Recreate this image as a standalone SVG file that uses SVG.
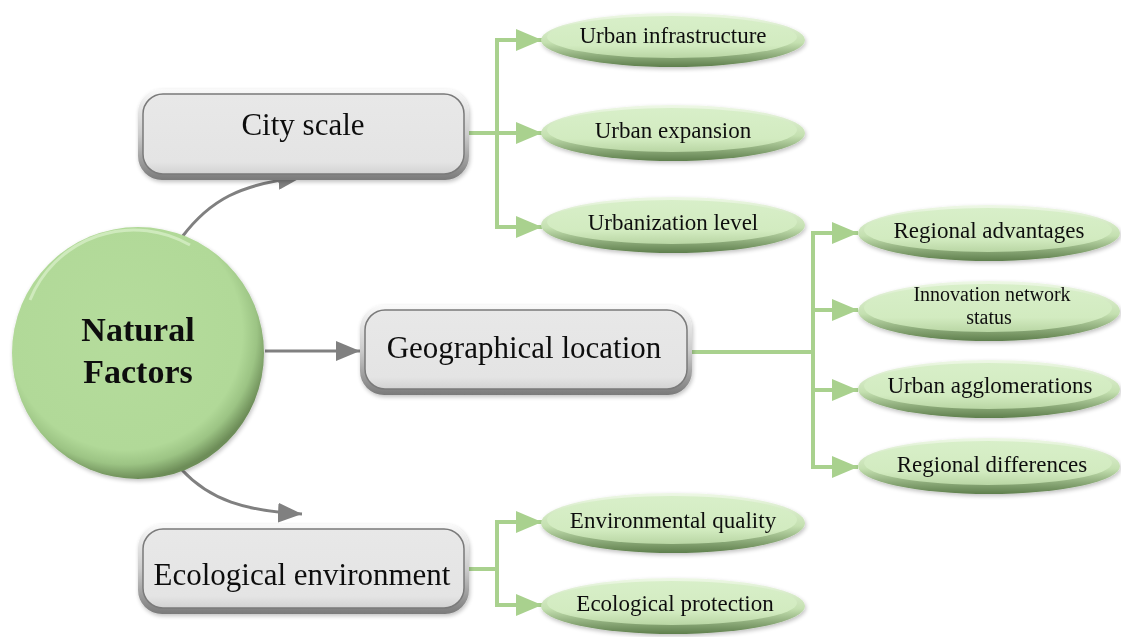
<svg xmlns="http://www.w3.org/2000/svg" width="1121" height="637" viewBox="0 0 1121 637">
<defs>
<style>
.box-text{font-family:"Liberation Serif","Times New Roman",serif;font-size:31px;fill:#111;text-anchor:middle}
.leaf-text{font-family:"Liberation Serif","Times New Roman",serif;font-size:23px;fill:#111;text-anchor:middle}
.leaf-small{font-family:"Liberation Serif","Times New Roman",serif;font-size:20px;fill:#111;text-anchor:middle}
.root-text{font-family:"Liberation Serif","Times New Roman",serif;font-size:34px;font-weight:bold;fill:#111;text-anchor:middle}
.green{fill:none;stroke:#a9d18e;stroke-width:4}
.gray{fill:none;stroke:#808080;stroke-width:3}
.box-outer{fill:url(#boxRim)}
.box-inner{fill:url(#boxFill);stroke:#7a7a7a;stroke-width:1.5}
.leaf-outer{fill:url(#leafRim)}
.leaf-inner{fill:url(#leafFill)}
</style>
<linearGradient id="boxRim" x1="0" y1="0" x2="0" y2="1">
<stop offset="0" stop-color="#fafafa"/>
<stop offset="0.5" stop-color="#cccccc"/>
<stop offset="1" stop-color="#7a7a7a"/>
</linearGradient>
<linearGradient id="boxFill" x1="0" y1="0" x2="0" y2="1">
<stop offset="0" stop-color="#e8e8e8"/>
<stop offset="0.85" stop-color="#e4e4e4"/>
<stop offset="1" stop-color="#d2d2d2"/>
</linearGradient>
<linearGradient id="leafRim" x1="0" y1="0" x2="0" y2="1">
<stop offset="0" stop-color="#eef8e6"/>
<stop offset="0.55" stop-color="#c4e0b0"/>
<stop offset="1" stop-color="#5f7f4d"/>
</linearGradient>
<linearGradient id="leafFill" x1="0" y1="0" x2="0" y2="1">
<stop offset="0" stop-color="#d8efc9"/>
<stop offset="0.7" stop-color="#d2ebc0"/>
<stop offset="1" stop-color="#b9d6a4"/>
</linearGradient>
<radialGradient id="rootFill" cx="0.45" cy="0.42" r="0.58">
<stop offset="0" stop-color="#b5dc9c"/>
<stop offset="0.8" stop-color="#b1d998"/>
<stop offset="0.9" stop-color="#9cc484"/>
<stop offset="1" stop-color="#6d8d58"/>
</radialGradient>
<filter id="shadow" x="-10%" y="-10%" width="120%" height="125%">
<feGaussianBlur in="SourceAlpha" stdDeviation="2"/>
<feOffset dx="1" dy="2" result="b"/>
<feComponentTransfer><feFuncA type="linear" slope="0.25"/></feComponentTransfer>
<feMerge><feMergeNode/><feMergeNode in="SourceGraphic"/></feMerge>
</filter>
<marker id="arrGreen" markerUnits="userSpaceOnUse" markerWidth="28" markerHeight="22" refX="26" refY="11" orient="auto">
<path d="M0,0 L26,11 L0,22 Z" fill="#a9d18e"/>
</marker>
<marker id="arrGray" markerUnits="userSpaceOnUse" markerWidth="26" markerHeight="20" refX="24" refY="10" orient="auto">
<path d="M0,0 L24,10 L0,20 Z" fill="#808080"/>
</marker>
</defs>
<rect width="1121" height="637" fill="#ffffff"/>

<g id="connectors">
<path class="gray" d="M182,237 C210,200 240,184 302,177" marker-end="url(#arrGray)"/>
<path class="gray" d="M265,351 L360,351" marker-end="url(#arrGray)"/>
<path class="gray" d="M182,470 C210,500 245,511 302,514" marker-end="url(#arrGray)"/>
<path class="green" d="M468,133 L497,133 M497,40 L497,227"/>
<path class="green" d="M495,40 L542,40" marker-end="url(#arrGreen)"/>
<path class="green" d="M497,133 L542,133" marker-end="url(#arrGreen)"/>
<path class="green" d="M495,227 L542,227" marker-end="url(#arrGreen)"/>
<path class="green" d="M692,352 L813,352 M813,233 L813,467"/>
<path class="green" d="M811,233 L858,233" marker-end="url(#arrGreen)"/>
<path class="green" d="M813,310 L858,310" marker-end="url(#arrGreen)"/>
<path class="green" d="M813,390 L858,390" marker-end="url(#arrGreen)"/>
<path class="green" d="M811,467 L858,467" marker-end="url(#arrGreen)"/>
<path class="green" d="M468,569 L497,569 M497,522 L497,605"/>
<path class="green" d="M495,522 L542,522" marker-end="url(#arrGreen)"/>
<path class="green" d="M495,605 L542,605" marker-end="url(#arrGreen)"/>
</g>

<g id="node-root" filter="url(#shadow)">
<circle cx="138" cy="353" r="126" fill="url(#rootFill)"/>
<path d="M30,300 A112,112 0 0 1 190,245" fill="none" stroke="#d6eec6" stroke-width="3" opacity="0.8"/>
<text class="root-text" x="138" y="341">Natural</text>
<text class="root-text" x="138" y="383">Factors</text>
</g>

<g id="node-city" filter="url(#shadow)">
<rect class="box-outer" x="138" y="89" width="331" height="91" rx="24"/>
<rect class="box-inner" x="143" y="94" width="321" height="80" rx="20"/>
<text class="box-text" x="303" y="135">City scale</text>
</g>

<g id="node-geo" filter="url(#shadow)">
<rect class="box-outer" x="360" y="305" width="332" height="90" rx="24"/>
<rect class="box-inner" x="365" y="310" width="322" height="79" rx="20"/>
<text class="box-text" x="524" y="358">Geographical location</text>
</g>

<g id="node-eco" filter="url(#shadow)">
<rect class="box-outer" x="138" y="524" width="331" height="90" rx="24"/>
<rect class="box-inner" x="143" y="529" width="321" height="79" rx="20"/>
<text class="box-text" x="302" y="585">Ecological environment</text>
</g>

<g id="leaf-urban-infrastructure" filter="url(#shadow)">
<ellipse class="leaf-outer" cx="673" cy="40" rx="132" ry="27"/>
<ellipse class="leaf-inner" cx="672" cy="37" rx="125" ry="21"/>
<text class="leaf-text" x="673" y="43">Urban infrastructure</text>
</g>
<g id="leaf-urban-expansion" filter="url(#shadow)">
<ellipse class="leaf-outer" cx="673" cy="133" rx="132" ry="28"/>
<ellipse class="leaf-inner" cx="672" cy="130" rx="125" ry="22"/>
<text class="leaf-text" x="673" y="138">Urban expansion</text>
</g>
<g id="leaf-urbanization-level" filter="url(#shadow)">
<ellipse class="leaf-outer" cx="673" cy="225" rx="132" ry="28"/>
<ellipse class="leaf-inner" cx="672" cy="222" rx="125" ry="22"/>
<text class="leaf-text" x="673" y="230">Urbanization level</text>
</g>
<g id="leaf-regional-advantages" filter="url(#shadow)">
<ellipse class="leaf-outer" cx="989" cy="233" rx="131" ry="28"/>
<ellipse class="leaf-inner" cx="988" cy="230" rx="124" ry="22"/>
<text class="leaf-text" x="989" y="238">Regional advantages</text>
</g>
<g id="leaf-innovation-network" filter="url(#shadow)">
<ellipse class="leaf-outer" cx="989" cy="311" rx="131" ry="30"/>
<ellipse class="leaf-inner" cx="988" cy="308" rx="124" ry="24"/>
<text class="leaf-small" x="992" y="301">Innovation network</text>
<text class="leaf-small" x="989" y="324">status</text>
</g>
<g id="leaf-urban-agglomerations" filter="url(#shadow)">
<ellipse class="leaf-outer" cx="989" cy="389" rx="131" ry="29"/>
<ellipse class="leaf-inner" cx="988" cy="386" rx="124" ry="23"/>
<text class="leaf-text" x="990" y="393">Urban agglomerations</text>
</g>
<g id="leaf-regional-differences" filter="url(#shadow)">
<ellipse class="leaf-outer" cx="989" cy="466" rx="131" ry="28"/>
<ellipse class="leaf-inner" cx="988" cy="463" rx="124" ry="22"/>
<text class="leaf-text" x="992" y="472">Regional differences</text>
</g>
<g id="leaf-environmental-quality" filter="url(#shadow)">
<ellipse class="leaf-outer" cx="673" cy="523" rx="132" ry="30"/>
<ellipse class="leaf-inner" cx="672" cy="520" rx="125" ry="24"/>
<text class="leaf-text" x="673" y="528">Environmental quality</text>
</g>
<g id="leaf-ecological-protection" filter="url(#shadow)">
<ellipse class="leaf-outer" cx="673" cy="606" rx="132" ry="28"/>
<ellipse class="leaf-inner" cx="672" cy="603" rx="125" ry="22"/>
<text class="leaf-text" x="675" y="611">Ecological protection</text>
</g>
</svg>
